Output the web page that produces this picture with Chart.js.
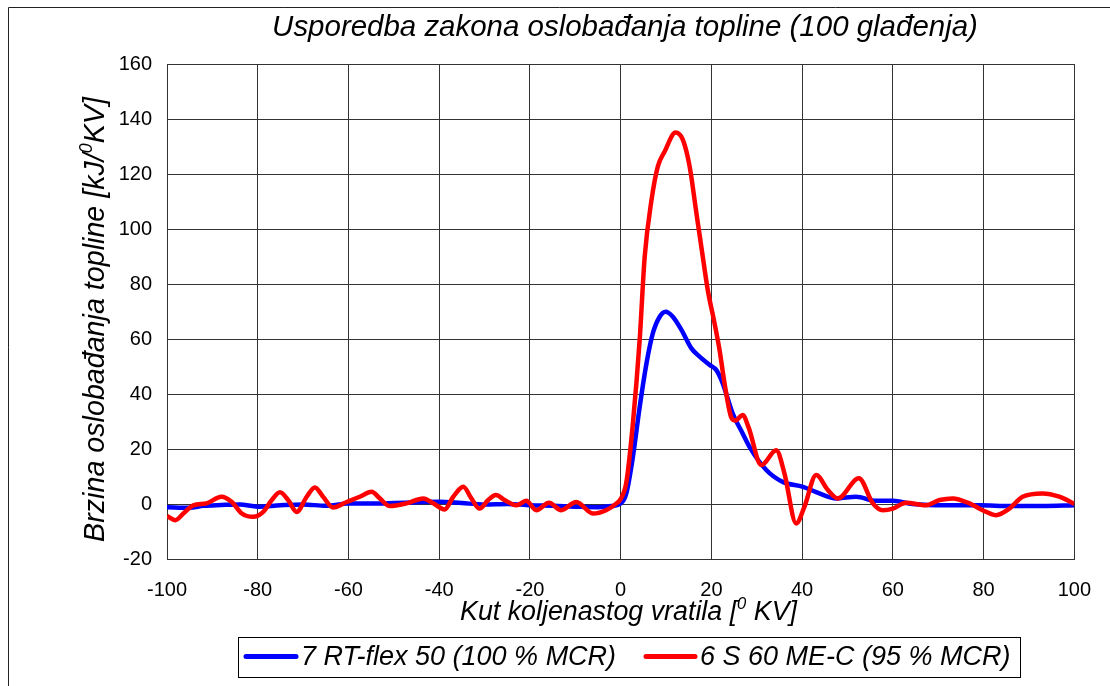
<!DOCTYPE html>
<html>
<head>
<meta charset="utf-8">
<script src="https://cdn.jsdelivr.net/npm/chart.js@4.4.1/dist/chart.umd.min.js"></script>
<style>
html,body{margin:0;padding:0;background:#fff;}
#wrap{width:1110px;height:686px;position:relative;}
</style>
</head>
<body>
<div id="wrap"><canvas id="c" width="1110" height="686"></canvas></div>
<script>
// ---- data ----
const chartTitle = 'Usporedba zakona oslobađanja topline (100 glađenja)';
const xTitleParts = [['Kut koljenastog vratila [', false], ['0', true], [' KV]', false]];
const yTitleParts = [['Brzina oslobađanja topline [kJ/', false], ['0', true], ['KV]', false]];
const seriesLabels = ['7 RT-flex 50 (100 % MCR)', '6 S 60 ME-C (95 % MCR)'];
const seriesColors = ['#0000ff', '#ff0000'];
const xTickMin = -100, xTickMax = 100, xTickStep = 20;
const yTickMin = -20, yTickMax = 160, yTickStep = 20;

const blueX = [-100,-95,-92,-88,-84,-80,-75,-70,-65,-60,-55,-50,-45,-40,-35,-30,-25,-20,-15,-10,-5,-2,0,1.25,2.7,4.2,5.7,7.1,8.6,9.9,11.5,13.4,15.6,17.4,19.6,21.1,22.5,24.7,26.9,28.4,32.1,35.7,40.2,43.8,47.5,51.9,56.3,60,64.3,71.6,79,86,93,100];
const blueY = [-1,-1.2,-0.5,-0.2,0,-0.8,-0.3,0,-0.5,0.3,0.3,0.5,0.8,1,0.5,0,0.2,-0.3,-0.5,-0.8,-1,-0.6,0.3,4,17.3,35.5,51.3,62.2,68.2,70,68.2,63.4,56.7,53.7,50.7,48.8,44,33,25.8,20.9,12.5,8.2,6.4,4,2.2,2.8,1.3,1.3,0.2,-0.3,-0.3,-0.6,-0.6,-0.3];

const redX = [-100,-98.2,-96.4,-94.2,-91.3,-88,-85.7,-83.5,-81,-78.8,-76.9,-75.1,-73.3,-71.4,-69.2,-67.4,-65.6,-63.4,-60.4,-57.5,-54.9,-53.1,-50.9,-47.2,-43.5,-41.3,-38.8,-36.9,-34.7,-32.9,-31.1,-29.2,-27.5,-25.6,-23,-20.8,-18.6,-15.8,-13.1,-9.8,-6.1,-3.2,-1,0,1.25,2.7,4.2,5.3,6.8,8.2,9.7,12.1,13.7,15.2,16.7,18.1,19.2,20.7,21.8,22.9,24.3,25.3,26.9,28.2,31,34.3,36.1,38.7,40.5,43.1,45.7,47.9,52.5,55.6,57.8,60,62.9,67.3,70.3,73.2,76.9,79.8,82.7,85.7,88.6,93,96.7,100];
const redY = [-4.2,-5.7,-3.3,-0.3,0.4,2.8,0.9,-3.3,-4.5,-2.7,1.6,4.4,1.6,-2.7,2.8,6.2,2.8,-1.1,0.9,2.8,4.6,2.2,-0.6,0.4,2.2,0.4,-1.8,2.8,6.4,2.2,-1.5,1.6,3.4,1.6,-0.3,1.3,-2.1,0.6,-2.1,0.9,-3.3,-2.1,0.3,2,8,29.5,60,90,110.6,122.8,128.2,135.1,132.5,122.8,105.8,90,77.9,65.8,56.1,44,32,30.5,32.5,28,14.3,19.7,11.3,-6.9,-0.9,10.7,5.2,2.2,9.5,0.4,-2.1,-1.5,0.6,-0.3,1.6,2.2,0.4,-2.1,-3.9,-1.5,2.8,4,2.8,0.2];

const FAM = '"Liberation Sans", Arial, sans-serif';
const pts = (xs, ys) => xs.map((x, i) => ({x: x, y: ys[i]}));

// ---- text helpers ----
function fontStr(size){ return 'italic ' + size.toFixed(2) + 'px ' + FAM; }
function richWidth(ctx, parts, f){
  let w = 0;
  for (const [t, sup] of parts){ ctx.font = fontStr(sup ? f*0.62 : f); w += ctx.measureText(t).width; }
  return w;
}
function fitSize(ctx, parts, target){ return 100 * target / richWidth(ctx, parts, 100); }
function drawRich(ctx, parts, f, x, y){
  for (const [t, sup] of parts){
    const s = sup ? f*0.62 : f;
    ctx.font = fontStr(s);
    ctx.fillText(t, x, sup ? y - f*0.42 : y);
    x += ctx.measureText(t).width;
  }
}

const decor = {
  id: 'decor',
  afterDraw(chart){
    const ctx = chart.ctx;
    ctx.save();
    ctx.fillStyle = '#000';
    ctx.textBaseline = 'alphabetic';
    ctx.textAlign = 'left';
    // outer frame (left and top visible)
    ctx.strokeStyle = '#222'; ctx.lineWidth = 1;
    ctx.beginPath(); ctx.moveTo(8.5, 690); ctx.lineTo(8.5, 7.5); ctx.lineTo(1115, 7.5); ctx.stroke();
    // title
    const tp = [[chartTitle, false]];
    const tf = fitSize(ctx, tp, 706);
    drawRich(ctx, tp, tf, 625 - richWidth(ctx, tp, tf)/2, 36);
    // x title
    const xf = fitSize(ctx, xTitleParts, 337);
    drawRich(ctx, xTitleParts, xf, 628.5 - richWidth(ctx, xTitleParts, xf)/2, 620);
    // y title
    const yf = fitSize(ctx, yTitleParts, 445);
    ctx.save();
    ctx.translate(104, 319.5);
    ctx.rotate(-Math.PI/2);
    drawRich(ctx, yTitleParts, yf, -richWidth(ctx, yTitleParts, yf)/2, 0);
    ctx.restore();
    // legend
    ctx.strokeStyle = '#000'; ctx.lineWidth = 1;
    ctx.strokeRect(238.5, 637.5, 782, 40);
    const lf = (fitSize(ctx, [[seriesLabels[0], false]], 318) + fitSize(ctx, [[seriesLabels[1], false]], 308)) / 2;
    const items = [{x0: 246, x1: 296, tx: 301}, {x0: 646, x1: 695, tx: 700}];
    chart.data.datasets.forEach((ds, i) => {
      const it = items[i];
      ctx.strokeStyle = ds.borderColor; ctx.lineWidth = 5; ctx.lineCap = 'round';
      ctx.beginPath(); ctx.moveTo(it.x0, 656.5); ctx.lineTo(it.x1, 656.5); ctx.stroke();
      ctx.font = fontStr(lf);
      ctx.textBaseline = 'middle';
      ctx.fillStyle = '#000';
      ctx.fillText(ds.label, it.tx, 657.5);
    });
    ctx.restore();
  }
};

new Chart(document.getElementById('c'), {
  type: 'line',
  data: {
    datasets: [
      {label: seriesLabels[0], data: pts(blueX, blueY), borderColor: seriesColors[0], borderWidth: 4.5, pointRadius: 0, cubicInterpolationMode: 'monotone', order: 1, fill: false},
      {label: seriesLabels[1], data: pts(redX, redY), borderColor: seriesColors[1], borderWidth: 4.5, pointRadius: 0, cubicInterpolationMode: 'monotone', order: 0, fill: false}
    ]
  },
  options: {
    responsive: false,
    animation: false,
    devicePixelRatio: 1,
    layout: {padding: {left: 0, right: 35, top: 64, bottom: 0}},
    plugins: {legend: {display: false}, title: {display: false}, tooltip: {enabled: false}},
    scales: {
      x: {
        type: 'linear', min: xTickMin, max: xTickMax,
        afterFit: s => { s.height = 126.5; },
        ticks: {stepSize: xTickStep, color: '#000', font: {family: FAM, size: 20}, padding: 19, maxRotation: 0},
        grid: {color: '#333', lineWidth: 1, drawTicks: false},
        border: {display: true, color: '#333', width: 1}
      },
      y: {
        type: 'linear', min: yTickMin, max: yTickMax,
        afterFit: s => { s.width = 167; },
        ticks: {stepSize: yTickStep, color: '#000', font: {family: FAM, size: 20}, padding: 15},
        grid: {color: '#333', lineWidth: 1, drawTicks: false},
        border: {display: true, color: '#333', width: 1}
      }
    }
  },
  plugins: [decor]
});
</script>
</body>
</html>
